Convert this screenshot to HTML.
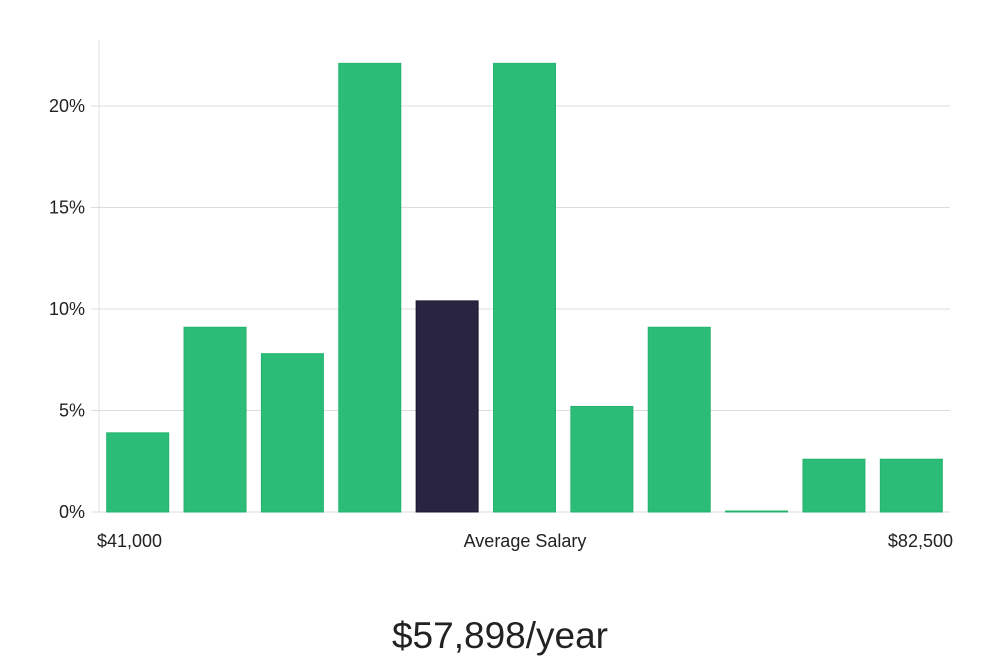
<!DOCTYPE html>
<html><head><meta charset="utf-8"><style>
html,body{margin:0;padding:0;background:#fff;}
body{width:1000px;height:660px;overflow:hidden;font-family:"Liberation Sans","DejaVu Sans",sans-serif;}
</style></head><body>
<svg id="chart" width="1000" height="660" xmlns="http://www.w3.org/2000/svg">
<g id="grid"></g>
<g id="bars"></g>
<g id="labels"></g>
</svg>
<script>
const categories = ["b1","b2","b3","b4","b5","b6","b7","b8","b9","b10","b11"];
const values = [3.9, 9.1, 7.8, 22.1, 10.4, 22.1, 5.2, 9.1, 0.05, 2.6, 2.6];
const highlightIndex = 4;
const yTicks = [0, 5, 10, 15, 20];
const yTickLabels = ["0%", "5%", "10%", "15%", "20%"];
const xLabels = ["$41,000", "Average Salary", "$82,500"];
const titleText = "$57,898/year";

const NS = "http://www.w3.org/2000/svg";
const x0 = 99, x1 = 950, yBase = 512, pxPerPct = 20.3;
const band = (x1 - x0) / categories.length;
const barW = 63;
function yScale(v){ return yBase - v * pxPerPct; }
function xScale(i){ return x0 + i * band + (band - barW) / 2; }
function mk(tag, attrs, parent){ const e = document.createElementNS(NS, tag); for (const k in attrs) e.setAttribute(k, attrs[k]); parent.appendChild(e); return e; }

const grid = document.getElementById("grid");
const axis = mk("line", {x1:x0, x2:x0, y1:40, y2:yBase, stroke:"#e0e0e0", "stroke-width":1}, grid);


yTicks.forEach((t, i) => {
  const y = yScale(t);
  const gl = mk("line", {x1:x0-8, x2:x1, y1:y, y2:y, stroke:"#dcdcdc", "stroke-width":1}, grid);
  
  
  const tx = mk("text", {x:85, y:y+6, "text-anchor":"end", "font-size":18, fill:"#222"}, grid);
  tx.textContent = yTickLabels[i];
  
  
});

const bars = document.getElementById("bars");
values.forEach((v, i) => {
  const y = yScale(v);
  const hl = i === highlightIndex;
  const r = mk("rect", {x:xScale(i)+0.5, y:y, width:barW-1, height:Math.max(1, yBase - y),
    fill: hl ? "#29243f" : "#2bbd78", stroke: hl ? "#1d1930" : "#25b36f", "stroke-width":1}, bars);
  
  
});

const labels = document.getElementById("labels");
const lx = [{x:97, a:"start"}, {x:525, a:"middle"}, {x:953, a:"end"}];
xLabels.forEach((s, i) => {
  const t = mk("text", {x:lx[i].x, y:547, "text-anchor":lx[i].a, "font-size":18, fill:"#222"}, labels);
  t.textContent = s;
  
  
});
const title = mk("text", {x:500, y:648, "text-anchor":"middle", "font-size":37, fill:"#222"}, labels);
title.textContent = titleText;


</script>
</body></html>
